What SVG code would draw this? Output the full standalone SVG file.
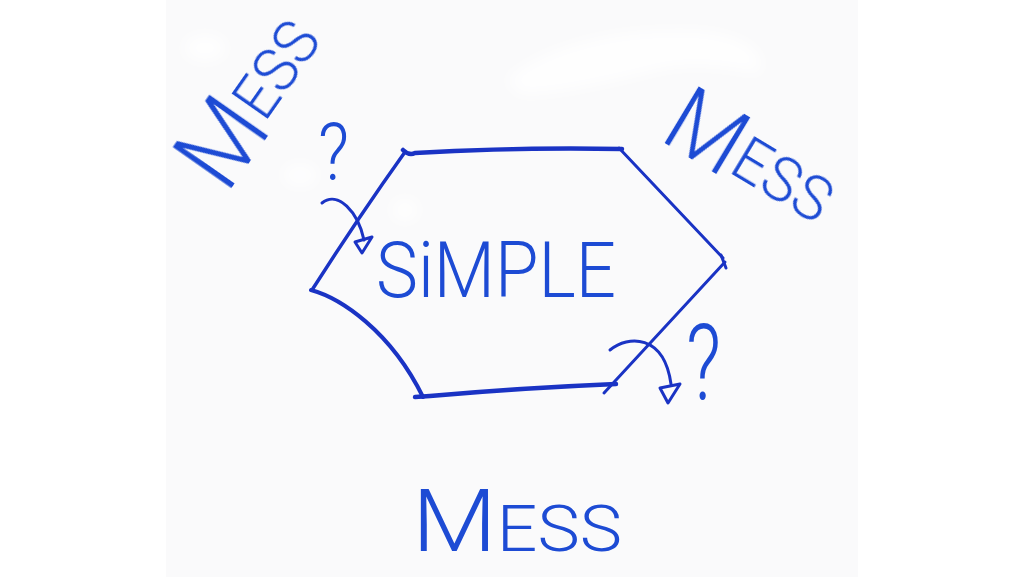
<svg xmlns="http://www.w3.org/2000/svg" width="1024" height="577" viewBox="0 0 1024 577">
  <defs>
    <style>
      .ink { fill: none; stroke: #1a33c4; stroke-linecap: round; stroke-linejoin: round; }
      .hand { font-family: Roboto, "Liberation Sans", sans-serif; font-weight: 300; fill: #1d4bd4; }
      .glow { fill: #ffffff; opacity: 0.8; }
    </style>
    <filter id="soft" x="-20%" y="-50%" width="140%" height="200%">
      <feGaussianBlur stdDeviation="8"/>
    </filter>
  </defs>

  <rect x="0" y="0" width="1024" height="577" fill="#ffffff"/>
  <g id="board">
    <rect x="166" y="0" width="692" height="577" fill="#fafafb"/>
    <g filter="url(#soft)">
      <path class="glow" d="M505,80 C540,50 600,30 680,30 C740,30 770,50 760,75 C740,70 700,62 660,70 C620,80 560,95 520,95 Z"/>
      <ellipse class="glow" cx="205" cy="48" rx="22" ry="14"/>
      <ellipse class="glow" cx="300" cy="175" rx="18" ry="12"/>
      <ellipse class="glow" cx="405" cy="210" rx="14" ry="12"/>
    </g>
  </g>

  <g id="hexagon">
    <path class="ink" stroke-width="4.5" d="M403,150 Q409,156 415,153 Q520,147 622,149"/>
    <path class="ink" stroke-width="3" d="M619,148 L723,258"/>
    <path class="ink" stroke-width="3" d="M721,255 L726,268"/>
    <path class="ink" stroke-width="3" d="M725,262 L604,393"/>
    <path class="ink" stroke-width="4.5" d="M415,397 L430,396 Q520,388 616,384"/>
    <path class="ink" stroke-width="4" d="M311,290 C340,298 390,330 423,397"/>
    <path class="ink" stroke-width="3.5" d="M312,290 Q360,215 405,152"/>
  </g>

  <g id="connectors">
    <path class="ink" stroke-width="3" d="M322,203 C338,190 358,212 364,240"/>
    <polygon class="ink" stroke-width="3" points="355,242 372,237 362,253"/>
    <path class="ink" stroke-width="3" d="M610,350 C628,335 664,334 671,384"/>
    <polygon class="ink" stroke-width="3" points="660,388 680,384 668,403"/>
  </g>

  <g id="simple">
    <text class="hand" x="376" y="297" font-size="77" textLength="240" lengthAdjust="spacingAndGlyphs">SiMPLE</text>
  </g>

  <g id="mess-top-left">
    <text class="hand" transform="translate(230,190) rotate(-55)" x="-6" y="0" textLength="182" lengthAdjust="spacingAndGlyphs"><tspan font-size="100">M</tspan><tspan font-size="62" dy="-10">ESS</tspan></text>
  </g>

  <g id="mess-top-right">
    <text class="hand" transform="translate(663,142) rotate(31)" x="-6" y="0" textLength="180" lengthAdjust="spacingAndGlyphs"><tspan font-size="92">M</tspan><tspan font-size="62" dy="-8">ESS</tspan></text>
  </g>

  <g id="mess-bottom">
    <text class="hand" x="412" y="551" textLength="210" lengthAdjust="spacingAndGlyphs"><tspan font-size="88">M</tspan><tspan font-size="64" dy="0">ESS</tspan></text>
  </g>

  <g id="question-left">
    <text class="hand" x="318" y="180" font-size="80" textLength="31" lengthAdjust="spacingAndGlyphs">?</text>
  </g>
  <g id="question-right">
    <text class="hand" x="686" y="400" font-size="106" textLength="35" lengthAdjust="spacingAndGlyphs">?</text>
  </g>
</svg>
